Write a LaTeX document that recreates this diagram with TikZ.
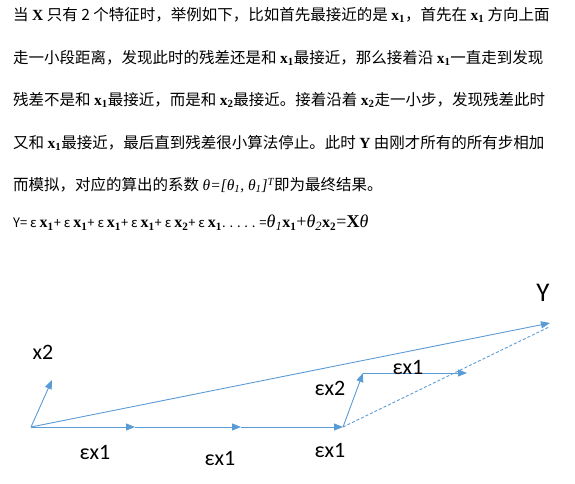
\documentclass[tikz,border=0pt]{standalone}
\usepackage{fontspec}
\setmainfont{Liberation Serif}
\newfontfamily\cjk{Noto Sans CJK SC}
\newfontfamily\lblfont{Carlito}
\usetikzlibrary{positioning}
\usetikzlibrary{arrows.meta}

\definecolor{stepblue}{HTML}{5B9BD5}
\newcommand{\bx}[1]{{\rmfamily\bfseries x\textsubscript{#1}}}
\newcommand{\fs}[1]{{\cjk\fontsize{13}{15}\selectfont #1}}

\begin{document}
\begin{tikzpicture}[x=1pt,y=-1pt,
	textline/.style={anchor=west,inner sep=0pt,font=\cjk\fontsize{15.5}{18}\selectfont},
	formline/.style={anchor=west,inner sep=0pt,font=\rmfamily\fontsize{16}{18}\selectfont},
	stepvec/.style={draw=stepblue,line width=0.9pt,-{Triangle[length=9pt,width=7pt]}},
	stepline/.style={draw=stepblue,line width=0.9pt,dash pattern=on 3pt off 2pt},
	steplabel/.style={font=\lblfont\fontsize{22}{26}\selectfont,inner sep=0pt}]

	% Proper size --- Bounding box
	\useasboundingbox (0,0) rectangle (575,484);

	% ------------------------------------------------
	% TEXT ABOVE THE DIAGRAM
	% ------------------------------------------------
	\node[textline] (L1) at (13,15) {当 {\rmfamily\bfseries X} 只有 2 个特征时，举例如下，比如首先最接近的是 \bx{1}，首先在 \bx{1} 方向上面};
	\node[textline] (L2) at (13,58) {走一小段距离，发现此时的残差还是和 \bx{1}最接近，那么接着沿 \bx{1}一直走到发现};
	\node[textline] (L3) at (13,100) {残差不是和 \bx{1}最接近，而是和 \bx{2}最接近。接着沿着 \bx{2}走一小步，发现残差此时};
	\node[textline] (L4) at (13,143) {又和 \bx{1}最接近，最后直到残差很小算法停止。此时 {\rmfamily\bfseries Y} 由刚才所有的所有步相加};
	\node[textline] (L5) at (13,185) {而模拟，对应的算出的系数 {\rmfamily\itshape θ=[θ\textsubscript{1}, θ\textsubscript{1}]\textsuperscript{T}}即为最终结果。};

	% the sum of all steps
	\node[formline] (F) at (13,223) {\fs{Y= ε }\bx{1}\fs{+ ε }\bx{1}\fs{+ ε }\bx{1}\fs{+ ε }\bx{1}\fs{+ ε }\bx{2}\fs{+ ε }\bx{1}\fs{. . . . . =}{\fontsize{18}{20}\selectfont\itshape θ\textsubscript{1}}\bx{1}{\fontsize{18}{20}\selectfont +\itshape θ\textsubscript{2}}\bx{2}{\fontsize{18}{20}\selectfont =\bfseries X\mdseries\itshape θ}};

	% ------------------------------------------------
	% THE STEPS
	% ------------------------------------------------
	\coordinate (S0) at (31,427);
	\coordinate (S1) at (135,427);
	\coordinate (S2) at (241,427);
	\coordinate (S3) at (343,427);
	\coordinate (S4) at (363,373);
	\coordinate (S5) at (467,373);

	\coordinate (X2) at (52,380);
	\coordinate (Y) at (550,323);
	\coordinate (Yd) at (549,327);

	\draw[stepvec] (S0) -- (X2);
	\draw[stepvec] (S0) -- (Y);
	\draw[stepvec] (S0) -- (S1);
	\draw[stepvec] (S1) -- (S2);
	\draw[stepvec] (S2) -- (S3);
	\draw[stepvec] (S3) -- (S4);
	\draw[stepvec] (S4) -- (S5);
	\draw[stepline] (S3) -- (Yd);

	% labels
	\node[steplabel] (lX2) at (43,352) {x2};
	\node[steplabel,font=\lblfont\fontsize{27}{30}\selectfont] (lY) at (543,293) {Y};
	\node[steplabel] (e1) at (95,452) {εx1};
	\node[steplabel] (e2) at (220,458) {εx1};
	\node[steplabel] (e3) at (330,450) {εx1};
	\node[steplabel] (e4) at (330,388) {εx2};
	\node[steplabel] (e5) at (408,367) {εx1};

\end{tikzpicture}
\end{document}
